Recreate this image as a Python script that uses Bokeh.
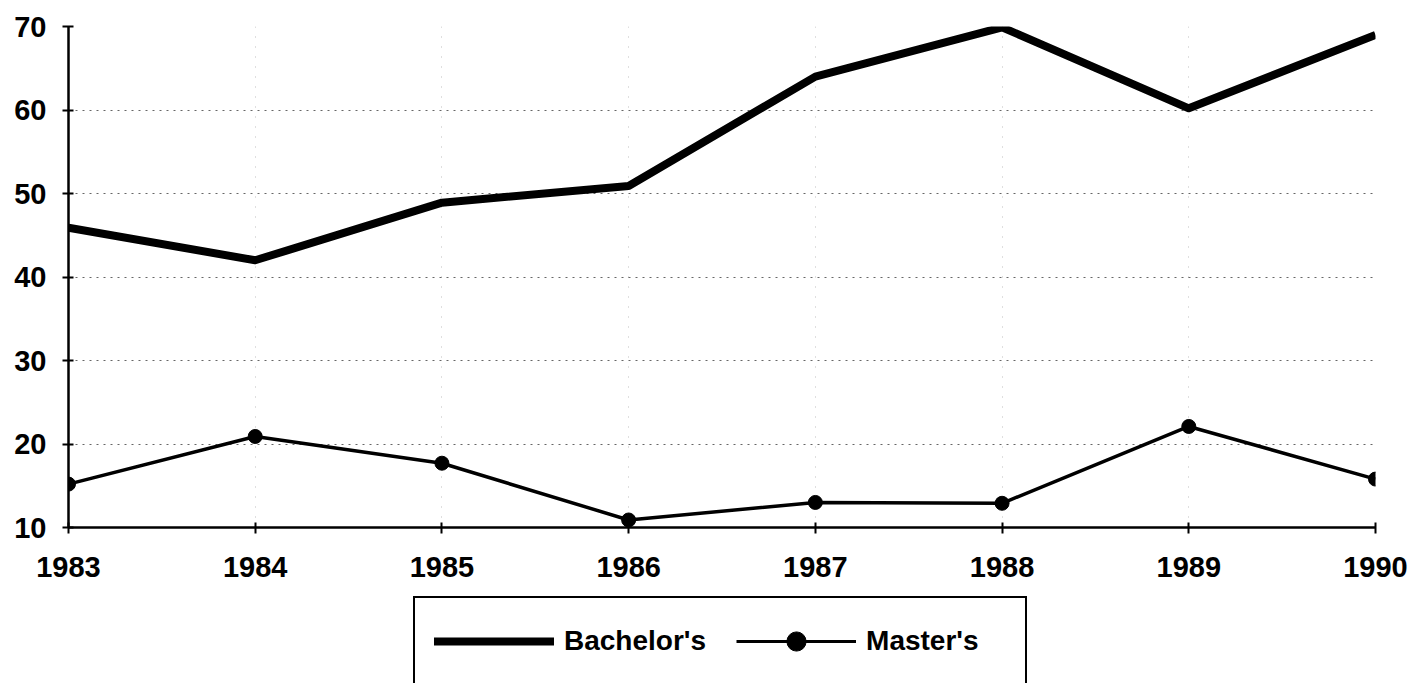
from bokeh.plotting import figure
from bokeh.layouts import column
from bokeh.models import Range1d, FixedTicker, Legend, LegendItem
from bokeh.embed import file_html
from bokeh.resources import INLINE

years = [1983, 1984, 1985, 1986, 1987, 1988, 1989, 1990]
bachelors = [45.9, 42.0, 48.9, 50.9, 64.0, 69.9, 60.2, 69.0]
masters = [15.2, 20.9, 17.7, 10.9, 13.0, 12.9, 22.1, 15.8]
y_ticks = [10, 20, 30, 40, 50, 60, 70]
series_names = ["Bachelor's", "Master's"]

FONT = "Liberation Sans"
W = 1408
BL, BR = 68, 33

p = figure(width=W, height=593, output_backend="svg", toolbar_location=None,
           x_range=Range1d(1983, 1990), y_range=Range1d(10, 70),
           min_border_left=BL, min_border_right=BR, min_border_top=26, min_border_bottom=66)
p.outline_line_color = None

for ax, ticks in ((p.xaxis, years), (p.yaxis, y_ticks)):
    ax.ticker = FixedTicker(ticks=ticks)
    ax.axis_line_width = 2.5
    ax.axis_line_color = "black"
    ax.major_tick_line_color = "black"
    ax.major_tick_line_width = 2
    ax.major_tick_in = 5
    ax.major_tick_out = 6
    ax.minor_tick_line_color = None
    ax.major_label_text_font = FONT
    ax.major_label_text_font_style = "bold"
    ax.major_label_text_font_size = "29px"
    ax.major_label_text_color = "black"
p.xaxis.major_label_standoff = 23
p.yaxis.major_label_standoff = 16

p.ygrid.grid_line_color = "black"
p.ygrid.grid_line_alpha = 0.6
p.ygrid.grid_line_dash = "2 5"
p.ygrid.grid_line_width = 1
p.xgrid.grid_line_color = "black"
p.xgrid.grid_line_alpha = 0.25
p.xgrid.grid_line_dash = "1 9"
p.xgrid.grid_line_width = 1

p.line(years, bachelors, line_width=8, line_color="black", line_join="round")
p.line(years, masters, line_width=3.5, line_color="black", line_join="round")
p.scatter(years, masters, size=14, marker="circle", fill_color="black", line_color="black")

# legend strip below the chart (same borders so the frames line up)
lg = figure(width=W, height=90, output_backend="svg", toolbar_location=None,
            x_range=Range1d(0, 1), y_range=Range1d(0, 1),
            x_axis_location=None, y_axis_location=None,
            min_border_left=BL, min_border_right=BR, min_border_top=0, min_border_bottom=0)
lg.xgrid.visible = False
lg.ygrid.visible = False
lg.outline_line_color = None
# same series drawn outside this strip's ranges: they only feed the legend samples
lb = lg.line(years, bachelors, line_width=8, line_color="black", line_cap="round")
lm = lg.line(years, masters, line_width=3, line_color="black")
lmc = lg.scatter(years, masters, size=11, marker="circle", fill_color="black", line_color="black")

legend = Legend(items=[LegendItem(label=series_names[0], renderers=[lb]),
                       LegendItem(label=series_names[1], renderers=[lm, lmc])],
                orientation="horizontal", location=(413 - BL, -3),
                border_line_color="black", border_line_width=2.5, border_line_alpha=1.0,
                background_fill_color="white", background_fill_alpha=1,
                padding=19, spacing=30, label_standoff=10, margin=0,
                glyph_width=120, glyph_height=48, label_height=48, label_width=140,
                label_text_font=FONT, label_text_font_style="bold",
                label_text_font_size="28px", label_text_color="black")
lg.add_layout(legend)

layout = column(p, lg, spacing=0)
open("out.html", "w").write(file_html(layout, INLINE))
